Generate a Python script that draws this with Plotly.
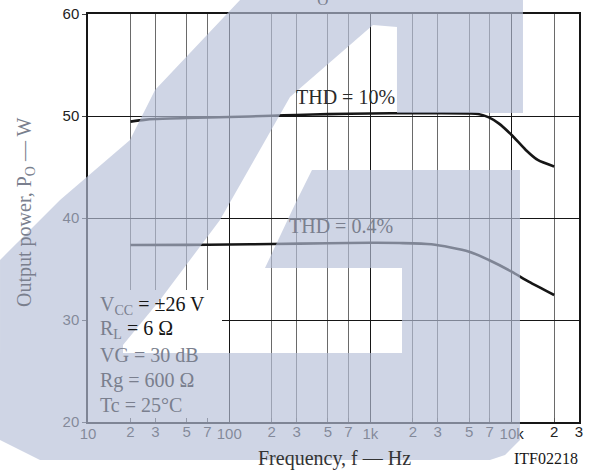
import math
import plotly.graph_objects as go

# ---------------- data ----------------
freq_thd10 = [20, 25, 30, 50, 100, 200, 300, 500, 1000, 2000, 3000, 5000, 5800, 6900, 8100, 10000, 12600, 15300, 20000]
pout_thd10 = [49.45, 49.62, 49.7, 49.8, 49.9, 50.02, 50.1, 50.18, 50.25, 50.27, 50.27, 50.25, 50.2, 49.87, 49.28, 48.14, 46.67, 45.69, 45.05]

freq_thd04 = [20, 50, 100, 200, 500, 1000, 1600, 2700, 5000, 6900, 10000, 13200, 20000]
pout_thd04 = [37.35, 37.37, 37.4, 37.45, 37.52, 37.57, 37.55, 37.42, 36.7, 35.88, 34.74, 33.76, 32.45]

minor_tick_vals = [20, 30, 50, 70, 200, 300, 500, 700, 2000, 3000, 5000, 7000, 20000, 30000]
minor_tick_text = ["2", "3", "5", "7", "2", "3", "5", "7", "2", "3", "5", "7", "2", "3"]
decade_tick_vals = [10, 100, 1000, 10000]
decade_tick_text = ["10", "100", "1k", "10k"]
y_tick_vals = [20, 30, 40, 50, 60]

conditions = ["V<sub>CC</sub>", "R<sub>L</sub>", "VG = 30 dB", "Rg = 600 Ω", "Tc = 25°C"]

# ---------------- layout geometry ----------------
W, H = 592, 476
ML, MR, MT, MB = 88, 13, 14, 54
PW, PH = W - ML - MR, H - MT - MB

def px(xp):
    return (xp - ML) / PW

def py(yp):
    return (H - MB - yp) / PH

SERIF = "Liberation Serif, Times New Roman, serif"
SANS = "Liberation Sans, Arial, sans-serif"
BLACK = "#161616"
GREY = "#7a7f8e"

XR = [1, math.log10(30000) + 1e-5]
YR = [20, 60]
# white panel behind the test conditions (in axis units: frequency / watts)
BOX_F1 = 10 ** (XR[0] + (222 - ML) / PW * (XR[1] - XR[0]))
BOX_P1 = YR[0] + (422 - 290) / PH * (YR[1] - YR[0])

fig = go.Figure()
fig.add_trace(go.Scatter(x=[10, BOX_F1, BOX_F1, 10, 10], y=[YR[0], YR[0], BOX_P1, BOX_P1, YR[0]],
                         mode="lines", fill="toself", fillcolor="white", line=dict(width=0),
                         showlegend=False, hoverinfo="skip"))
line_style = dict(color=BLACK, width=2.6, shape="spline", smoothing=0.7)
fig.add_trace(go.Scatter(x=freq_thd10, y=pout_thd10, mode="lines", line=line_style,
                         showlegend=False, hoverinfo="skip"))
fig.add_trace(go.Scatter(x=freq_thd04, y=pout_thd04, mode="lines", line=line_style,
                         showlegend=False, hoverinfo="skip"))
# helper trace so the decade axis is drawn
fig.add_trace(go.Scatter(x=[10], y=[20], xaxis="x2", mode="markers",
                         marker=dict(opacity=0), showlegend=False, hoverinfo="skip"))

fig.update_layout(
    width=W, height=H,
    margin=dict(l=ML, r=MR, t=MT, b=MB, autoexpand=False),
    paper_bgcolor="white", plot_bgcolor="white",
    xaxis=dict(type="log", range=XR, tickmode="array", tickvals=minor_tick_vals,
               ticktext=minor_tick_text, showgrid=True, gridcolor="#6a6a6a", gridwidth=1,
               ticks="inside", ticklen=4, tickcolor="#555", showline=True, linecolor=BLACK,
               linewidth=1.5, mirror=True, zeroline=False, automargin=False,
               ticklabelstandoff=-5,
               tickfont=dict(family=SANS, size=15, color="#222")),
    xaxis2=dict(type="log", range=XR, overlaying="x", side="bottom", tickmode="array",
                tickvals=decade_tick_vals, ticktext=decade_tick_text, showgrid=True,
                gridcolor=BLACK, gridwidth=1.2, ticks="", showline=False, zeroline=False,
                automargin=False, ticklabelstandoff=1,
                tickfont=dict(family=SANS, size=15, color="#222")),
    yaxis=dict(range=YR, tickmode="array", tickvals=y_tick_vals, showgrid=True,
               gridcolor=BLACK, gridwidth=1.2, ticks="outside", ticklen=4, tickcolor="#444",
               showline=True, linecolor=BLACK, linewidth=1.5, mirror=True, zeroline=False,
               automargin=False, tickfont=dict(family=SANS, size=15, color="#222")),
)

# watermark (large translucent "G")
wm_pts = [(240, 0), (523, 0), (523, 113), (397, 113), (397, 27), (373, 25), (290, 97),
          (220, 220), (160, 300), (123, 345), (123, 353), (402, 353), (402, 268), (265, 268),
          (297, 200), (312, 170), (520, 170), (520, 440), (505, 455), (490, 460), (40, 460),
          (0, 440), (0, 260), (60, 200), (130, 140), (155, 90)]
path = "M " + " L ".join(f"{px(a):.4f},{py(b):.4f}" for a, b in wm_pts) + " Z"
fig.update_layout(shapes=[dict(type="path", xref="paper", yref="paper", path=path,
                               fillcolor="rgba(182,191,215,0.66)", line=dict(width=0),
                               layer="above")])

ann = []
def text(x, y, s, size=20, color=BLACK, xanchor="center", yanchor="middle", angle=0, font=SERIF):
    ann.append(dict(x=px(x), y=py(y), xref="paper", yref="paper", text=s, showarrow=False,
                    xanchor=xanchor, yanchor=yanchor, textangle=angle,
                    font=dict(family=font, size=size, color=color)))

text(25, 212, "Output power, P<sub>O</sub> — W", color=GREY, angle=-90)
text(334, 459, "Frequency, f — Hz", color="#333")
text(546, 459, "ITF02218", size=16)
text(337, 10, "P<sub>O</sub> — f", size=22, color=GREY, yanchor="bottom")

# curve labels placed in data coordinates
ann.append(dict(x=math.log10(662), y=51.86, xref="x", yref="y", text="THD = 10%", showarrow=False,
                font=dict(family=SERIF, size=20, color="#2a2a2a")))
ann.append(dict(x=math.log10(621), y=39.2, xref="x", yref="y", text="THD = 0.4%", showarrow=False,
                font=dict(family=SERIF, size=20, color=GREY)))

g = lambda s: f"<span style='color:{GREY}'>{s}</span>"
cond_lines = [g(conditions[0]) + " = ±26 V", g(conditions[1]) + " = 6 Ω",
              g(conditions[2]), g(conditions[3]), g(conditions[4])]
for s, yy in zip(cond_lines, [305, 329, 355, 380, 405]):
    text(98, yy, s, xanchor="left")

fig.update_layout(annotations=ann)
fig.write_html("out.html", config={"displayModeBar": False},
               post_script="document.body.style.margin='0';")
